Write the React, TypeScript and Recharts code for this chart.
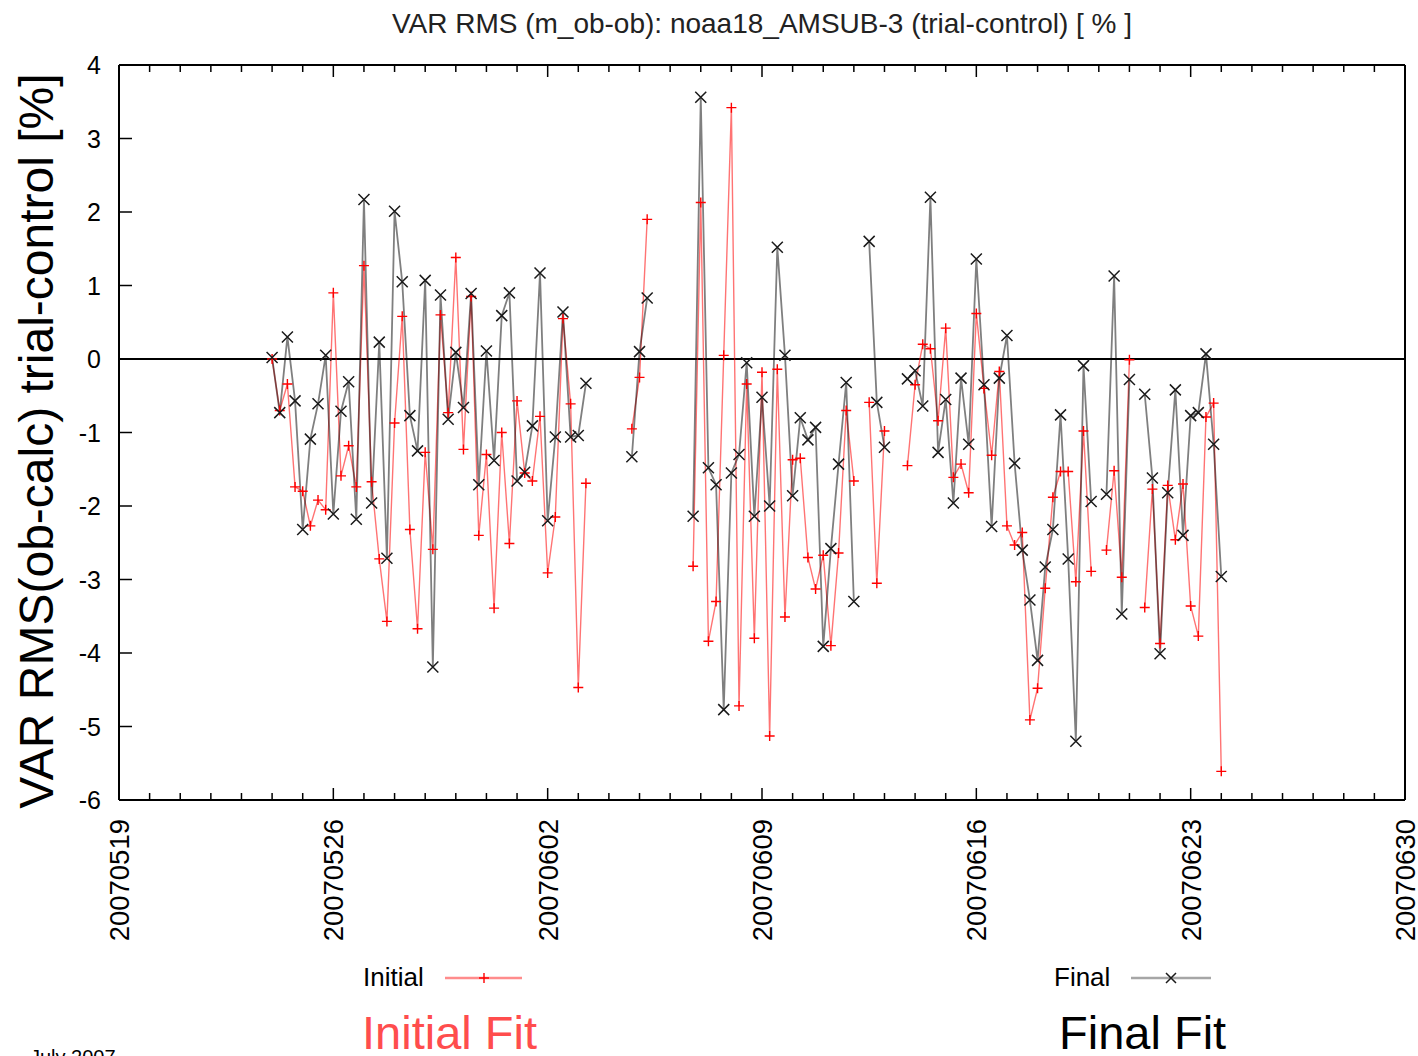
import React from "react";
import { LineChart, Line, XAxis, YAxis, ReferenceLine } from "recharts";

// 6-hourly samples starting 20070524 00Z (day 5 after 20070519); null = no data
const START_DAY = 5;
const SLOTS_PER_DAY = 4;

const INITIAL = [
  0.0, -0.7, -0.34, -1.74, -1.8, -2.27, -1.92, -2.05, 0.9, -1.59,
  -1.18, -1.74, 1.27, -1.67, -2.72, -3.57, -0.87, 0.58, -2.32, -3.67,
  -1.27, -2.59, 0.6, -0.73, 1.38, -1.23, 0.85, -2.4, -1.3, -3.39,
  -1.0, -2.51, -0.57, -1.55, -1.66, -0.78, -2.91, -2.15, 0.55, -0.61,
  -4.47, -1.69, null, null, null, null, null, -0.95, -0.25, 1.9,
  null, null, null, null, null, -2.82, 2.13, -3.84, -3.3, 0.05,
  3.42, -4.72, -0.34, -3.8, -0.18, -5.13, -0.14, -3.51, -1.37, -1.35,
  -2.7, -3.13, -2.67, -3.9, -2.64, -0.7, -1.66, null, -0.59, -3.05,
  -0.98, null, null, -1.45, -0.35, 0.2, 0.14, -0.84, 0.42, -1.61,
  -1.43, -1.82, 0.62, -0.4, -1.31, -0.17, -2.27, -2.53, -2.36, -4.91,
  -4.48, -3.12, -1.88, -1.53, -1.53, -3.03, -0.98, -2.89, null, -2.6,
  -1.52, -2.97, -0.01, null, -3.38, -1.77, -3.87, -1.72, -2.46, -1.7,
  -3.36, -3.77, -0.79, -0.6, -5.61,
];

const FINAL = [
  0.02, -0.73, 0.3, -0.57, -2.32, -1.09, -0.61, 0.05, -2.11, -0.71,
  -0.31, -2.18, 2.17, -1.96, 0.23, -2.71, 2.01, 1.05, -0.77, -1.25,
  1.07, -4.19, 0.87, -0.82, 0.09, -0.66, 0.89, -1.71, 0.11, -1.38,
  0.59, 0.9, -1.66, -1.54, -0.91, 1.17, -2.2, -1.06, 0.64, -1.06,
  -1.04, -0.33, null, null, null, null, null, -1.33, 0.1, 0.83,
  null, null, null, null, null, -2.14, 3.56, -1.48, -1.71, -4.77,
  -1.55, -1.3, -0.05, -2.14, -0.52, -2.0, 1.52, 0.05, -1.86, -0.8,
  -1.1, -0.93, -3.91, -2.58, -1.43, -0.32, -3.3, null, 1.6, -0.59,
  -1.2, null, null, -0.27, -0.16, -0.64, 2.2, -1.27, -0.55, -1.96,
  -0.26, -1.16, 1.36, -0.35, -2.28, -0.26, 0.32, -1.42, -2.6, -3.28,
  -4.1, -2.83, -2.32, -0.76, -2.72, -5.2, -0.09, -1.94, null, -1.84,
  1.13, -3.47, -0.28, null, -0.48, -1.62, -4.01, -1.82, -0.42, -2.4,
  -0.77, -0.73, 0.07, -1.16, -2.96,
];

const DATE_LABELS = ["20070519", "20070526", "20070602", "20070609", "20070616", "20070623", "20070630"];
const Y_TICKS = [-6, -5, -4, -3, -2, -1, 0, 1, 2, 3, 4];
const DAY_TICKS = Array.from({ length: 43 }, (_, i) => i);

const rows = INITIAL.map((v, i) => ({
  day: START_DAY + i / SLOTS_PER_DAY,
  initial: v,
  final: FINAL[i],
}));

const FONT = '"Liberation Sans", Arial, Helvetica, sans-serif';
const RED = "#ff0000";
const DARK = "#1a1a1a";

function BottomTick({ x, y, payload }: any) {
  const major = payload.value % 7 === 0;
  return (
    <g>
      <line x1={x} y1={y} x2={x} y2={y - (major ? 12 : 7)} stroke="#000" strokeWidth={1.5} />
      {major && (
        <text
          transform={`translate(${x + 10},${y + 19}) rotate(-90)`}
          textAnchor="end"
          fontSize={27.5}
          fontFamily={FONT}
          fill="#000"
        >
          {DATE_LABELS[payload.value / 7]}
        </text>
      )}
    </g>
  );
}

function TopTick({ x, y, payload }: any) {
  const major = payload.value % 7 === 0;
  return <line x1={x} y1={y} x2={x} y2={y + (major ? 12 : 7)} stroke="#000" strokeWidth={1.5} />;
}

function LeftTick({ x, y, payload }: any) {
  return (
    <g>
      <line x1={x} y1={y} x2={x + 13} y2={y} stroke="#000" strokeWidth={1.5} />
      <text x={x - 18} y={y} dy="0.36em" textAnchor="end" fontSize={25} fontFamily={FONT} fill="#000">
        {payload.value}
      </text>
    </g>
  );
}

function RightTick({ x, y }: any) {
  return <line x1={x} y1={y} x2={x - 13} y2={y} stroke="#000" strokeWidth={1.5} />;
}

function PlusDot({ cx, cy, value }: any) {
  if (value == null || cx == null || cy == null) return null;
  return <path d={`M${cx - 5},${cy}H${cx + 5}M${cx},${cy - 5}V${cy + 5}`} stroke={RED} strokeWidth={1.4} fill="none" />;
}

function CrossDot({ cx, cy, value }: any) {
  if (value == null || cx == null || cy == null) return null;
  return (
    <path
      d={`M${cx - 5.5},${cy - 5.5}L${cx + 5.5},${cy + 5.5}M${cx - 5.5},${cy + 5.5}L${cx + 5.5},${cy - 5.5}`}
      stroke={DARK}
      strokeWidth={1.5}
      fill="none"
    />
  );
}

export default function App() {
  return (
    <div
      style={{
        position: "absolute",
        left: 0,
        top: 0,
        width: 1418,
        height: 1056,
        overflow: "hidden",
        background: "#fff",
        fontFamily: FONT,
      }}
    >
      <LineChart width={1418} height={1056} data={rows} margin={{ top: 0, right: 0, bottom: 106, left: 0 }}>
        <XAxis
          xAxisId="b"
          type="number"
          dataKey="day"
          domain={[0, 42]}
          ticks={DAY_TICKS}
          interval={0}
          height={150}
          tickSize={0}
          tickMargin={0}
          tickLine={false}
          axisLine={{ stroke: "#000", strokeWidth: 2 }}
          tick={<BottomTick />}
        />
        <XAxis
          xAxisId="t"
          orientation="top"
          type="number"
          dataKey="day"
          domain={[0, 42]}
          ticks={DAY_TICKS}
          interval={0}
          height={65}
          tickSize={0}
          tickMargin={0}
          tickLine={false}
          axisLine={{ stroke: "#000", strokeWidth: 2 }}
          tick={<TopTick />}
        />
        <YAxis
          yAxisId="l"
          type="number"
          domain={[-6, 4]}
          ticks={Y_TICKS}
          interval={0}
          width={119}
          tickSize={0}
          tickMargin={0}
          tickLine={false}
          axisLine={{ stroke: "#000", strokeWidth: 2 }}
          tick={<LeftTick />}
        />
        <YAxis
          yAxisId="r"
          orientation="right"
          type="number"
          domain={[-6, 4]}
          ticks={Y_TICKS}
          interval={0}
          width={13}
          tickSize={0}
          tickMargin={0}
          tickLine={false}
          axisLine={{ stroke: "#000", strokeWidth: 2 }}
          tick={<RightTick />}
        />
        <ReferenceLine xAxisId="b" yAxisId="l" y={0} stroke="#000" strokeWidth={2} />
        <Line
          xAxisId="b"
          yAxisId="l"
          dataKey="initial"
          stroke={RED}
          strokeOpacity={0.55}
          strokeWidth={1.4}
          dot={<PlusDot />}
          activeDot={false}
          isAnimationActive={false}
          type="linear"
        />
        <Line
          xAxisId="b"
          yAxisId="l"
          dataKey="final"
          stroke="#000"
          strokeOpacity={0.5}
          strokeWidth={1.8}
          dot={<CrossDot />}
          activeDot={false}
          isAnimationActive={false}
          type="linear"
        />
      </LineChart>

      <div
        style={{
          position: "absolute",
          left: 119,
          width: 1286,
          top: 8,
          textAlign: "center",
          fontSize: 28,
          color: "#222",
          whiteSpace: "nowrap",
        }}
      >
        VAR RMS (m_ob-ob): noaa18_AMSUB-3 (trial-control) [ % ]
      </div>

      <div
        style={{
          position: "absolute",
          left: 37 - 390,
          top: 441 - 25,
          width: 780,
          height: 50,
          lineHeight: "50px",
          textAlign: "center",
          fontSize: 48,
          color: "#000",
          whiteSpace: "nowrap",
          transform: "rotate(-90deg)",
        }}
      >
        VAR RMS(ob-calc) trial-control [%]
      </div>

      <div style={{ position: "absolute", left: 363, top: 962, fontSize: 26, color: "#000" }}>Initial</div>
      <svg style={{ position: "absolute", left: 440, top: 966 }} width={90} height={24}>
        <line x1={5} y1={12} x2={82} y2={12} stroke={RED} strokeOpacity={0.45} strokeWidth={2.5} />
        <path d="M44,7V17M39,12H49" stroke={RED} strokeWidth={1.4} />
      </svg>
      <div style={{ position: "absolute", left: 1054, top: 962, fontSize: 26, color: "#000" }}>Final</div>
      <svg style={{ position: "absolute", left: 1126, top: 966 }} width={90} height={24}>
        <line x1={5} y1={12} x2={85} y2={12} stroke="#000" strokeOpacity={0.35} strokeWidth={2.5} />
        <path d="M40,7L50,17M40,17L50,7" stroke={DARK} strokeWidth={1.5} />
      </svg>

      <div
        style={{
          position: "absolute",
          left: 362,
          top: 1011,
          fontSize: 47,
          lineHeight: "44px",
          color: "#ff4d4d",
          whiteSpace: "nowrap",
        }}
      >
        Initial Fit
      </div>
      <div
        style={{
          position: "absolute",
          left: 1059,
          top: 1011,
          fontSize: 47,
          lineHeight: "44px",
          color: "#000",
          whiteSpace: "nowrap",
        }}
      >
        Final Fit
      </div>
      <div style={{ position: "absolute", left: 30, top: 1046, fontSize: 20, color: "#000", whiteSpace: "nowrap" }}>
        July 2007
      </div>
    </div>
  );
}
